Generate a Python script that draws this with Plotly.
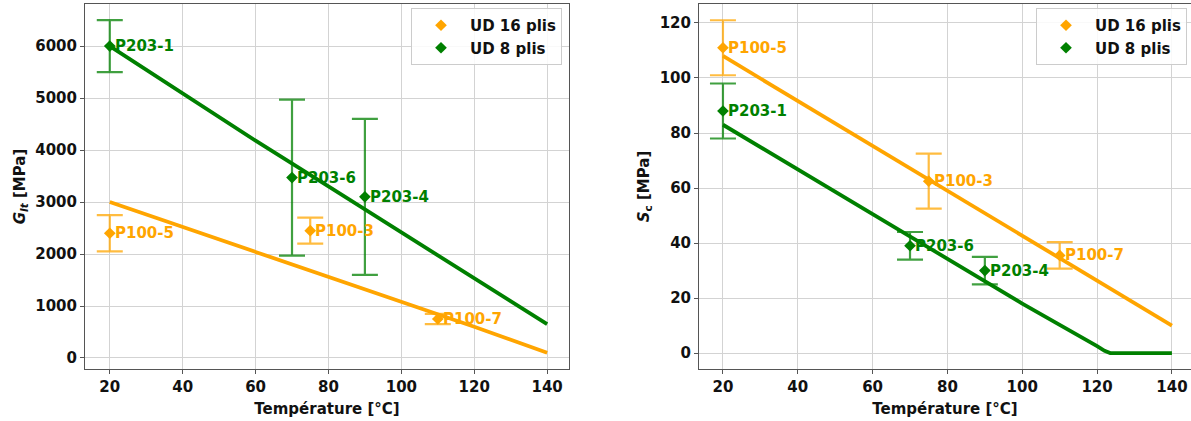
import plotly.graph_objects as go

ORANGE = "#FFA500"
GREEN = "#008000"
FONT = "DejaVu Sans"

# ---- Left panel: G_lt ----
temp_line = [20, 40, 60, 80, 100, 120, 140]
g16_line = [3000, 2520, 2040, 1570, 1080, 600, 100]
g8_line = [6000, 5080, 4180, 3300, 2420, 1530, 650]

g16_t = [20, 75, 110]
g16_val = [2400, 2450, 750]
g16_err = [350, 250, 100]
g16_lbl = ["P100-5", "P100-3", "P100-7"]

g8_t = [20, 70, 90]
g8_val = [6000, 3470, 3100]
g8_err = [500, 1500, 1500]
g8_lbl = ["P203-1", "P203-6", "P203-4"]

# ---- Right panel: S_c ----
s16_line_t = [20, 140]
s16_line = [108, 10]
s8_line_t = [20, 60, 100, 120, 122, 123.5, 140]
s8_line = [83, 50.5, 18, 2.5, 0.8, 0, 0]

s16_t = [20, 75, 110]
s16_val = [111, 62.5, 35.5]
s16_err = [10, 10, 4.8]
s16_lbl = ["P100-5", "P100-3", "P100-7"]

s8_t = [20, 70, 90]
s8_val = [88, 39, 30]
s8_err = [10, 5, 5]
s8_lbl = ["P203-1", "P203-6", "P203-4"]

xticks = [20, 40, 60, 80, 100, 120, 140]

fig = go.Figure()

def add_panel(xa, ya, lt16, l16, lt8, l8, t16, v16, e16, lb16, t8, v8, e8, lb8, legend):
    xr, yr = xa.replace("axis", ""), ya.replace("axis", "")
    fig.add_trace(go.Scatter(x=lt16, y=l16, mode="lines", line=dict(color=ORANGE, width=3.8),
                             xaxis=xr, yaxis=yr, showlegend=False, hoverinfo="skip"))
    fig.add_trace(go.Scatter(x=lt8, y=l8, mode="lines", line=dict(color=GREEN, width=3.8),
                             xaxis=xr, yaxis=yr, showlegend=False, hoverinfo="skip"))
    fig.add_trace(go.Scatter(x=t16, y=v16, mode="markers",
                             marker=dict(symbol="diamond", size=9, color=ORANGE),
                             error_y=dict(type="data", array=e16, color="rgba(255,165,0,0.75)",
                                          thickness=2.2, width=13),
                             xaxis=xr, yaxis=yr, showlegend=False))
    fig.add_trace(go.Scatter(x=t8, y=v8, mode="markers",
                             marker=dict(symbol="diamond", size=9, color=GREEN),
                             error_y=dict(type="data", array=e8, color="rgba(0,128,0,0.75)",
                                          thickness=2.2, width=13),
                             xaxis=xr, yaxis=yr, showlegend=False))
    fig.add_trace(go.Scatter(x=[None], y=[None], mode="markers", name="UD 16 plis",
                             marker=dict(symbol="diamond", size=9, color=ORANGE),
                             xaxis=xr, yaxis=yr, legend=legend))
    fig.add_trace(go.Scatter(x=[None], y=[None], mode="markers", name="UD 8 plis",
                             marker=dict(symbol="diamond", size=9, color=GREEN),
                             xaxis=xr, yaxis=yr, legend=legend))
    for t, v, lb in zip(t16, v16, lb16):
        fig.add_annotation(x=t, y=v, text=lb, xref=xr, yref=yr, showarrow=False,
                           xanchor="left", xshift=3,
                           font=dict(family=FONT, size=15, color=ORANGE, weight="bold"))
    for t, v, lb in zip(t8, v8, lb8):
        fig.add_annotation(x=t, y=v, text=lb, xref=xr, yref=yr, showarrow=False,
                           xanchor="left", xshift=3,
                           font=dict(family=FONT, size=15, color=GREEN, weight="bold"))

add_panel("xaxis", "yaxis", temp_line, g16_line, temp_line, g8_line,
          g16_t, g16_val, g16_err, g16_lbl, g8_t, g8_val, g8_err, g8_lbl, "legend")
add_panel("xaxis2", "yaxis2", s16_line_t, s16_line, s8_line_t, s8_line,
          s16_t, s16_val, s16_err, s16_lbl, s8_t, s8_val, s8_err, s8_lbl, "legend2")

tickfont = dict(family=FONT, size=15, color="#111", weight="bold")
titlefont = dict(family=FONT, size=15, color="#111", weight="bold")
axis_common = dict(showgrid=True, gridcolor="#d3d3d3", gridwidth=1, showline=True,
                   linecolor="#555", linewidth=1, mirror=True, ticks="outside",
                   ticklen=4, tickcolor="#555", tickfont=tickfont, zeroline=False,
                   automargin=False)

ydom = [1 - 369 / 421, 1 - 4 / 421]
legfont = dict(family=FONT, size=15, color="#111", weight="bold")
fig.update_layout(
    width=1191, height=421, margin=dict(l=0, r=0, t=0, b=0),
    paper_bgcolor="white", plot_bgcolor="white",
    font=dict(family=FONT),
    xaxis=dict(domain=[85 / 1191, 569 / 1191], range=[13.2, 146], tickvals=xticks,
               title=dict(text="Température [°C]", font=titlefont, standoff=8), anchor="y",
               **axis_common),
    yaxis=dict(domain=ydom, range=[-212, 6810], tickvals=[0, 1000, 2000, 3000, 4000, 5000, 6000],
               title=dict(text="<i>G</i><sub><i>lt</i></sub> [MPa]", font=titlefont, standoff=6),
               anchor="x", **axis_common),
    xaxis2=dict(domain=[699 / 1191, 1.0], range=[13.6, 145.1], tickvals=xticks,
                title=dict(text="Température [°C]", font=titlefont, standoff=8), anchor="y2",
                **axis_common),
    yaxis2=dict(domain=ydom, range=[-5.8, 126.9], tickvals=[0, 20, 40, 60, 80, 100, 120],
                title=dict(text="<i>S</i><sub>c</sub> [MPa]", font=titlefont, standoff=6),
                anchor="x2", **axis_common),
    legend=dict(x=562 / 1191, y=1 - 8 / 421, xanchor="right", yanchor="top",
                bgcolor="rgba(255,255,255,0.85)", bordercolor="#cccccc", borderwidth=1,
                font=legfont, itemwidth=48, tracegroupgap=0),
    legend2=dict(x=1187 / 1191, y=1 - 8 / 421, xanchor="right", yanchor="top",
                 bgcolor="rgba(255,255,255,0.85)", bordercolor="#cccccc", borderwidth=1,
                 font=legfont, itemwidth=48, tracegroupgap=0),
)

fig.write_html("out.html", config={"displayModeBar": False},
               post_script="document.body.style.margin='0';")
